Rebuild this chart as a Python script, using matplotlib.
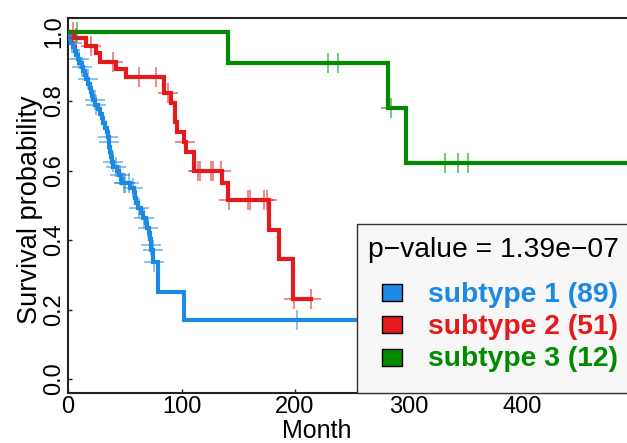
import numpy as np
import matplotlib
matplotlib.use("Agg")
import matplotlib.pyplot as plt
from matplotlib.patches import Rectangle

plt.rcParams['font.family'] = ['Liberation Sans', 'DejaVu Sans']

W, H = 627, 443

# ---- data -------------------------------------------------------------
group_names = ["subtype 1", "subtype 2", "subtype 3"]
group_sizes = [89, 51, 12]
group_colors = ["#1E88E5", "#E41A1C", "#008B00"]
p_value_label = "p\u2212value = 1.39e\u221207"

# subtype 1: event times (months) and survival after each event
s1_times = [1, 2, 3, 4, 6, 7, 9, 10, 12, 13, 15, 16, 18, 19, 20, 21, 22, 24,
            26, 28, 30, 31, 33, 34, 35, 36, 36.5, 37, 38, 39, 40, 43, 45, 47,
            48, 55, 58, 59, 60, 62, 64, 66, 68.5, 70, 71, 72, 73, 73.5, 75,
            79, 102]
s1_surv = [0.989, 0.978, 0.966, 0.955, 0.943, 0.932, 0.920, 0.909, 0.897,
           0.886, 0.874, 0.862, 0.850, 0.838, 0.826, 0.814, 0.802, 0.789,
           0.776, 0.763, 0.750, 0.737, 0.723, 0.710, 0.696, 0.682, 0.668,
           0.653, 0.639, 0.625, 0.611, 0.599, 0.587, 0.575, 0.563, 0.551,
           0.539, 0.522, 0.506, 0.492, 0.477, 0.463, 0.448, 0.434, 0.419,
           0.403, 0.387, 0.371, 0.338, 0.251, 0.169]
s1_censor = [3.5, 9.5, 12, 17.5, 23.5, 25, 35, 36.4, 39.5, 42, 46, 49, 50,
             54, 57, 62.5, 67, 70.5, 73.2, 74.6, 76, 202]
s1_end = 300

# subtype 2
s2_times = [5, 16, 25, 28, 42, 51, 85, 91, 94, 96, 102, 104, 111, 136, 141,
            177, 186, 198]
s2_surv = [0.980, 0.958, 0.937, 0.913, 0.891, 0.870, 0.823, 0.794, 0.740,
           0.711, 0.683, 0.654, 0.600, 0.563, 0.515, 0.429, 0.344, 0.229]
s2_censor = [4, 7, 20, 40, 62.5, 77.5, 88, 103, 114.5, 116, 126, 128, 135,
             141.5, 158.6, 160, 172.7, 175, 199, 214]
s2_end = 214

# subtype 3
s3_times = [141, 282, 298]
s3_surv = [0.909, 0.779, 0.623]
s3_censor = [8, 229, 238, 285, 332, 344, 352]
s3_end = 520

x_ticks = [0, 100, 200, 300, 400]
y_ticks = [0.0, 0.2, 0.4, 0.6, 0.8, 1.0]
y_tick_labels = ["0.0", "0.2", "0.4", "0.6", "0.8", "1.0"]

# ---- figure -----------------------------------------------------------
fig = plt.figure(figsize=(W / 100, H / 100), dpi=100)
ax_left, ax_bottom_px, ax_top_px = 68, 392.9, 17.6
ax = fig.add_axes([ax_left / W, 1 - ax_bottom_px / H,
                   1 - ax_left / W, (ax_bottom_px - ax_top_px) / H])
ax.set_xlim(0, (W - ax_left) / 1.135)
ax.set_ylim(-0.04, 1.04)

series = [(s1_times, s1_surv, s1_censor, s1_end),
          (s2_times, s2_surv, s2_censor, s2_end),
          (s3_times, s3_surv, s3_censor, s3_end)]

for (times, surv, cens, end), col in zip(series, group_colors):
    t = np.array([0] + list(times) + [end], dtype=float)
    s = np.array([1.0] + list(surv) + [surv[-1]], dtype=float)
    ax.step(t, s, where="post", color=col, lw=3.0, zorder=3,
            solid_joinstyle="miter")
    c = np.array(cens, dtype=float)
    idx = np.searchsorted(t[:-1], c, side="right") - 1
    ax.plot(c, s[idx], ls="none", marker="+", ms=14, mew=1.2,
            color=col, alpha=0.6, zorder=4)

for side in ["left", "bottom", "top"]:
    ax.spines[side].set_color("#222222")
    ax.spines[side].set_linewidth(1.5)
ax.spines["right"].set_visible(False)

ax.set_xticks(x_ticks)
ax.set_xticklabels([str(v) for v in x_ticks])
ax.set_yticks(y_ticks)
ax.set_yticklabels(y_tick_labels, rotation=90, va="center")
ax.tick_params(direction="in", length=3, width=1, color="#222222",
               labelsize=17, pad=2)

fig.text(317 / W, 1 - 438 / H, "Month", ha="center", va="baseline",
         fontsize=18)
fig.text(37 / W, 1 - 210 / H, "Survival probability", ha="center",
         va="baseline", rotation=90, rotation_mode="anchor", fontsize=19.5)

# ---- legend box -------------------------------------------------------
def fx(px):
    return px / W


def fy(py):
    return 1 - py / H


box = Rectangle((fx(357), fy(ax_bottom_px)), fx(700) - fx(357),
                fy(224) - fy(ax_bottom_px), transform=fig.transFigure,
                facecolor="#F7F7F7", edgecolor="#333333", lw=1.0, zorder=10)
fig.add_artist(box)
fig.text(fx(368), fy(257), p_value_label, fontsize=20.3, color="black",
         va="baseline", ha="left", zorder=11)

row_baselines = [301.5, 334, 366.5]
for name, n, col, yb in zip(group_names, group_sizes, group_colors,
                            row_baselines):
    sq = Rectangle((fx(382), fy(yb - 1)), fx(20), fy(0) - fy(17),
                   transform=fig.transFigure, facecolor=col,
                   edgecolor="black", lw=1.0, zorder=11)
    fig.add_artist(sq)
    fig.text(fx(428), fy(yb), f"{name} ({n})", fontsize=20.3,
             fontweight="bold", color=col, va="baseline", ha="left",
             zorder=11)

fig.savefig("out.png", dpi=100)
